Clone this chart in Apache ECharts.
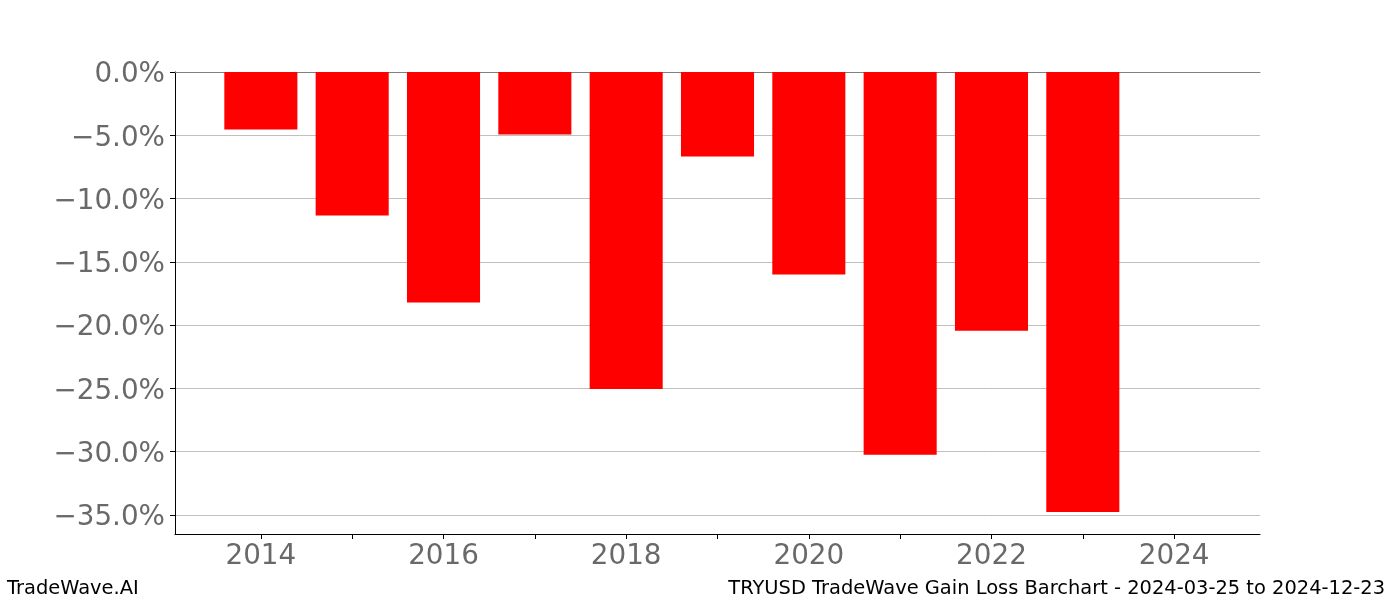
<!DOCTYPE html>
<html>
<head>
<meta charset="utf-8">
<script src="https://cdn.jsdelivr.net/npm/echarts@6/dist/echarts.min.js"></script>
<style>
html,body{margin:0;padding:0;background:#fff;}
#chart{width:1400px;height:600px;}
</style>
</head>
<body>
<div id="chart"></div>
<script>
// ---- data ----
const years = [2014, 2015, 2016, 2017, 2018, 2019, 2020, 2021, 2022, 2023];
const gainLoss = [-4.54, -11.34, -18.22, -4.93, -25.04, -6.67, -16.00, -30.23, -20.45, -34.76];
const xTickValues = [2014, 2015, 2016, 2017, 2018, 2019, 2020, 2021, 2022, 2023, 2024];
const xLabelValues = [2014, 2016, 2018, 2020, 2022, 2024];
const yTickValues = [-35, -30, -25, -20, -15, -10, -5, 0];
const xMin = 2013.06, xMax = 2024.94;
const yMin = -36.5, yMax = 0;
const footerLeft = 'TradeWave.AI';
const footerRight = 'TRYUSD TradeWave Gain Loss Barchart - 2024-03-25 to 2024-12-23';

const FONT = 'DejaVu Sans';
const grid = {left: 175, right: 140, top: 72, bottom: 66};
const plotW = 1400 - grid.left - grid.right;
const barW = 0.8 * plotW / (xMax - xMin);

const fmtPct = v => '{p|' + (v < 0 ? '\u2212' : '') + Math.abs(v).toFixed(1) + '%}';

const chart = echarts.init(document.getElementById('chart'), null, {renderer: 'canvas'});
chart.setOption({
  animation: false,
  backgroundColor: '#ffffff',
  grid: grid,
  xAxis: [{
    type: 'value', min: xMin, max: xMax,
    axisLine: {show: true, onZero: false, lineStyle: {color: '#000', width: 1}},
    axisTick: {show: true, customValues: xTickValues, length: 5, lineStyle: {color: '#000', width: 1}},
    axisLabel: {show: true, customValues: xLabelValues, margin: 9, color: '#696969',
      fontFamily: FONT, fontSize: 27.8, formatter: v => String(v)},
    splitLine: {show: false}
  }, {
    type: 'value', min: xMin, max: xMax, position: 'top',
    axisLine: {show: true, onZero: false, lineStyle: {color: '#808080', width: 1}},
    axisTick: {show: false}, axisLabel: {show: false}, splitLine: {show: false}
  }],
  yAxis: {
    type: 'value', min: yMin, max: yMax, splitNumber: 7,
    axisLine: {show: true, onZero: false, lineStyle: {color: '#000', width: 1}},
    axisTick: {show: true, customValues: yTickValues, length: 5, lineStyle: {color: '#000', width: 1}},
    axisLabel: {show: true, customValues: yTickValues, margin: 10, color: '#696969',
      fontFamily: FONT, fontSize: 27.8, formatter: fmtPct,
      rich: {p: {fontFamily: FONT, fontSize: 27.8, color: '#696969', padding: [6, 0, 0, 0]}}},
    splitLine: {show: true, lineStyle: {color: '#c0c0c0', width: 1}}
  },
  series: [{
    type: 'bar',
    xAxisIndex: 0,
    data: years.map((y, i) => [y, gainLoss[i]]),
    barWidth: barW,
    itemStyle: {color: '#ff0000'},
    z: 2
  }],
  graphic: [{
    type: 'text', left: 7, top: 579,
    style: {text: footerLeft, fontFamily: FONT, fontSize: 19.45, fill: '#000'}
  }, {
    type: 'text', right: 15, top: 579,
    style: {text: footerRight, fontFamily: FONT, fontSize: 19.45, fill: '#000'}
  }]
});
</script>
</body>
</html>
